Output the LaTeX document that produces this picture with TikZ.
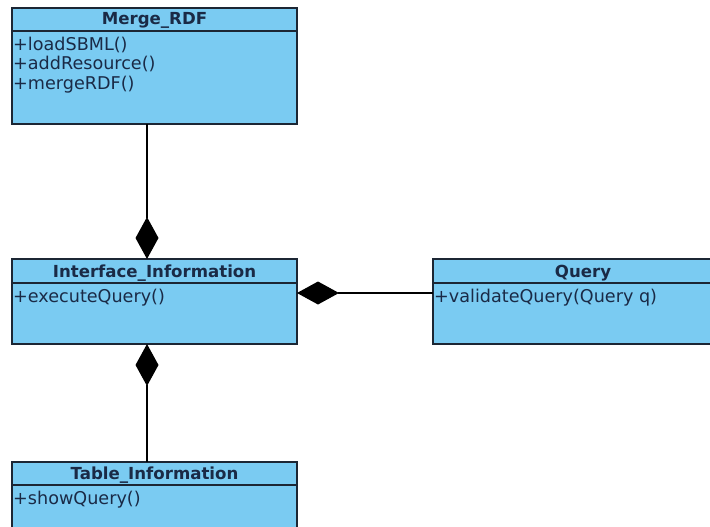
\documentclass[tikz,border=0pt]{standalone}
\usepackage{fontspec}
\setmainfont{DejaVu Sans}
\usetikzlibrary{arrows.meta}
\definecolor{boxfill}{RGB}{122,203,242}
\definecolor{boxtext}{RGB}{26,42,70}
\definecolor{boxline}{RGB}{28,38,52}
\begin{document}
\begin{tikzpicture}[x=1pt,y=-1pt,
  classbox/.style={draw=boxline, fill=boxfill, line width=1.5pt, anchor=north west, inner sep=0pt, outer sep=0pt},
  ctitle/.style={anchor=base, inner sep=0pt, text=boxtext, font=\fontsize{16.6}{19}\selectfont\bfseries},
  cmeth/.style={anchor=base west, inner sep=0pt, text=boxtext, font=\fontsize{17.6}{19}\selectfont},
  divider/.style={draw=boxline, line width=1.5pt},
  comp/.style={draw=black, line width=1.4pt, -{Diamond[length=42pt,width=23pt]}}
]
\useasboundingbox (0,0) rectangle (710,527);
\clip (0,0) rectangle (710,527);

% Merge_RDF
\node[classbox, minimum width=285pt, minimum height=116pt] (merge) at (12,8) {};
\draw[divider] (12,31) -- (297,31);
\node[ctitle] (mergeT) at (154.5,25) {Merge\_RDF};
\node[cmeth] (mergeM1) at (13,51) {+loadSBML()};
\node[cmeth] (mergeM2) at (13,70) {+addResource()};
\node[cmeth] (mergeM3) at (13,89) {+mergeRDF()};

% Interface_Information
\node[classbox, minimum width=285pt, minimum height=85pt] (iface) at (12,259) {};
\draw[divider] (12,283) -- (297,283);
\node[ctitle] (ifaceT) at (154.5,277) {Interface\_Information};
\node[cmeth] (ifaceM1) at (13,302) {+executeQuery()};

% Query
\node[classbox, minimum width=300pt, minimum height=85pt] (query) at (433,259) {};
\draw[divider] (433,283) -- (733,283);
\node[ctitle] (queryT) at (583,277) {Query};
\node[cmeth] (queryM1) at (434,302) {+validateQuery(Query q)};

% Table_Information
\node[classbox, minimum width=285pt, minimum height=90pt] (tbl) at (12,462) {};
\draw[divider] (12,485) -- (297,485);
\node[ctitle] (tblT) at (154.5,479) {Table\_Information};
\node[cmeth] (tblM1) at (13,504) {+showQuery()};

% connectors
\coordinate (vx) at (147,0);
\coordinate (hy) at (0,293);
\draw[comp] (merge.south -| vx) -- (iface.north -| vx);
\draw[comp] (query.west |- hy) -- (iface.east |- hy);
\draw[comp] (tbl.north -| vx) -- (iface.south -| vx);
\end{tikzpicture}
\end{document}
